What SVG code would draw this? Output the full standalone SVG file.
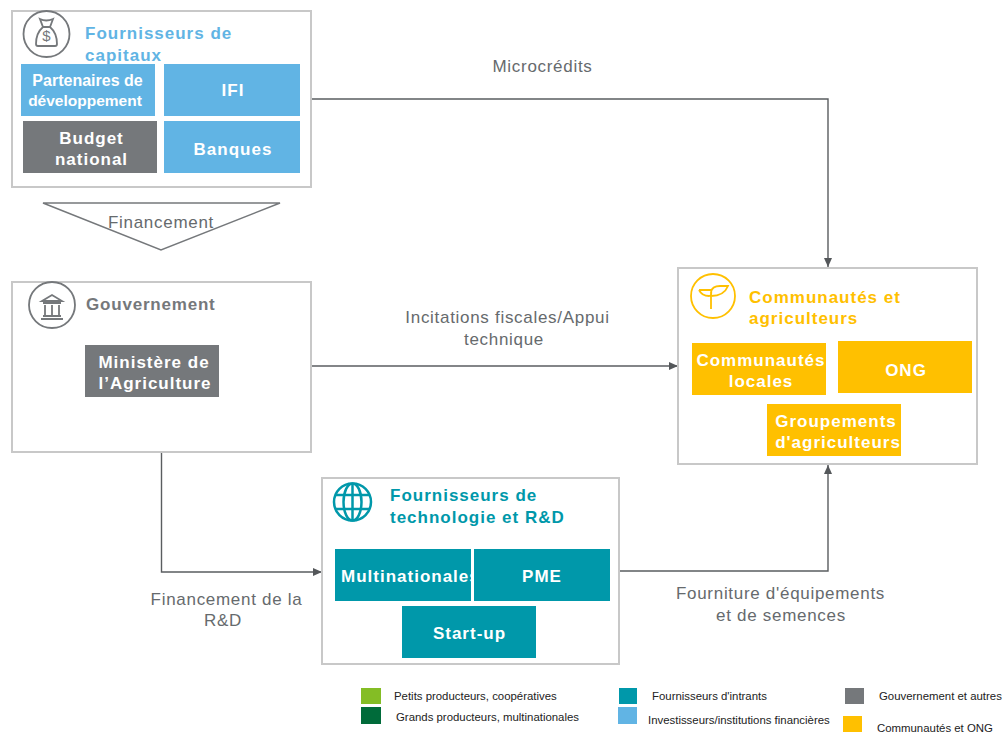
<svg xmlns="http://www.w3.org/2000/svg" width="1004" height="733" viewBox="0 0 1004 733">
<style>
text{font-family:"Liberation Sans",Arial,sans-serif}
.box{fill:#fff;stroke:#c8c8c8;stroke-width:2}
.h{font-size:17px;font-weight:bold;letter-spacing:1px}
.w{font-size:17px;font-weight:bold;fill:#fff;letter-spacing:1px;text-anchor:middle}
.l{font-size:17px;fill:#666a6d;text-anchor:middle;letter-spacing:.7px}
.k{font-size:11.400px;fill:#222}
.blue{fill:#61b4e4}.gray{fill:#75787b}.yel{fill:#ffc000}.teal{fill:#0098aa}
.c{fill:none;stroke:#5a5d60;stroke-width:1.4}
.i{fill:none;stroke-width:1.8}
</style>
<defs><marker id="a" markerWidth="10" markerHeight="8" refX="9" refY="4" orient="auto" markerUnits="userSpaceOnUse"><path d="M0 0L9 4L0 8z" fill="#54575a"/></marker></defs>
<g id="connectors">
<path class="c" marker-end="url(#a)" d="M311 99H828V267"/>
<path class="c" marker-end="url(#a)" d="M311 366H678"/>
<path class="c" marker-end="url(#a)" d="M161.500 452V572H322"/>
<path class="c" marker-end="url(#a)" d="M619 571H828V465"/>
</g>
<g id="capitaux">
<rect class="box" x="12" y="11" width="299" height="176"/>
<g class="i" stroke="#75787b"><circle cx="46.500" cy="34" r="23"/><path d="M40 19q6 3 13 0l-3 8h-7zM43 27q-7 6-7 17q0 2 2 2h17q2 0 2-2q0-11-7-17"/></g>
<text x="46.500" y="41" font-size="15" fill="#75787b" text-anchor="middle">$</text>
<text class="h" x="85" y="39" fill="#61b4e4">Fournisseurs de</text>
<text class="h" x="85" y="61" fill="#61b4e4">capitaux</text>
<rect class="blue" x="21" y="64" width="134" height="52"/>
<text x="87.500" y="86" font-size="16" font-weight="bold" fill="#fff" text-anchor="middle">Partenaires de</text>
<text x="85" y="106" font-size="15.500" font-weight="bold" fill="#fff" text-anchor="middle">développement</text>
<rect class="blue" x="164" y="64" width="136" height="52"/>
<text class="w" x="233" y="96">IFI</text>
<rect class="gray" x="23" y="121" width="134" height="52"/>
<text class="w" x="91.500" y="144">Budget</text>
<text class="w" x="91.500" y="165">national</text>
<rect class="blue" x="164" y="121" width="136" height="52"/>
<text class="w" x="233" y="155">Banques</text>
</g>
<g id="financement">
<path d="M43 203H280L161 250z" fill="#fff" stroke="#75787b" stroke-width="1.500"/>
<text class="l" x="161" y="228">Financement</text>
</g>
<g id="gouvernement">
<rect class="box" x="12" y="282" width="299" height="170"/>
<g class="i" stroke="#75787b"><circle cx="52" cy="305" r="23"/><path d="M42 301L52 295L62 301zM43 303H61M45 305V315M52 305V315M59 305V315M43 316H61M41 319H63"/></g>
<text x="86" y="310" font-size="17" font-weight="bold" letter-spacing=".8" fill="#75787b">Gouvernement</text>
<rect class="gray" x="85" y="345" width="134" height="52"/>
<text class="w" x="154" y="368">Ministère de</text>
<text class="w" x="155" y="389">l’Agriculture</text>
</g>
<g id="communautes">
<rect class="box" x="678" y="268" width="299" height="196"/>
<g class="i" stroke="#ffc000"><circle cx="713" cy="296" r="22"/><path d="M711 309V292M699 290H711Q712 296 709 296Q702 296 699 290M711 292Q712 286 720 286H728Q724 296 711 296"/></g>
<text class="h" x="749" y="303" fill="#ffc000">Communautés et</text>
<text class="h" x="749" y="324" fill="#ffc000">agriculteurs</text>
<rect class="yel" x="692" y="343" width="134" height="52"/>
<text class="w" x="761" y="366">Communautés</text>
<text class="w" x="761" y="387">locales</text>
<rect class="yel" x="838" y="341" width="134" height="52"/>
<text class="w" x="906" y="376">ONG</text>
<rect class="yel" x="767" y="404" width="134" height="52"/>
<text class="w" x="836" y="427">Groupements</text>
<text class="w" x="838" y="448">d'agriculteurs</text>
</g>
<g id="technologie">
<rect class="box" x="322" y="478" width="297" height="186"/>
<g fill="none" stroke="#0098aa" stroke-width="2.500"><circle cx="352.500" cy="502" r="18.500"/><ellipse cx="352.500" cy="502" rx="9" ry="18.500"/><path d="M352.500 483V521M335 495H370M335 509H370"/></g>
<text class="h" x="390" y="501" fill="#0098aa">Fournisseurs de</text>
<text class="h" x="390" y="523" fill="#0098aa">technologie et R&amp;D</text>
<rect class="teal" x="335" y="549" width="136" height="52"/>
<text class="w" x="341" y="582" style="text-anchor:start">Multinationales</text>
<rect x="471" y="549" width="3" height="52" fill="#fff"/>
<rect class="teal" x="474" y="549" width="136" height="52"/>
<text class="w" x="542" y="582">PME</text>
<rect class="teal" x="402" y="606" width="134" height="52"/>
<text class="w" x="469.500" y="639">Start-up</text>
</g>
<g id="labels">
<text class="l" x="542.500" y="72">Microcrédits</text>
<text class="l" x="507.500" y="323">Incitations fiscales/Appui</text>
<text class="l" x="504" y="345">technique</text>
<text class="l" x="226.500" y="605">Financement de la</text>
<text class="l" x="223" y="626">R&amp;D</text>
<text class="l" x="780.500" y="599">Fourniture d'équipements</text>
<text class="l" x="781" y="621">et de semences</text>
</g>
<g id="legend">
<rect x="361" y="688" width="20" height="16" fill="#84bd25"/>
<rect x="361" y="707" width="20" height="17" fill="#006b3a"/>
<rect x="619" y="688" width="18" height="16" fill="#0098aa"/>
<rect x="618" y="707" width="19" height="17" fill="#61b4e4"/>
<rect x="845" y="688" width="19" height="16" fill="#75787b"/>
<rect x="843" y="716" width="19" height="16" fill="#ffc000"/>
<text class="k" x="394" y="700">Petits producteurs, coopératives</text>
<text class="k" x="396" y="721">Grands producteurs, multinationales</text>
<text class="k" x="652" y="700">Fournisseurs d'intrants</text>
<text class="k" x="648" y="724">Investisseurs/institutions financières</text>
<text class="k" x="879" y="700">Gouvernement et autres</text>
<text class="k" x="877" y="732">Communautés et ONG</text>
</g>
</svg>
